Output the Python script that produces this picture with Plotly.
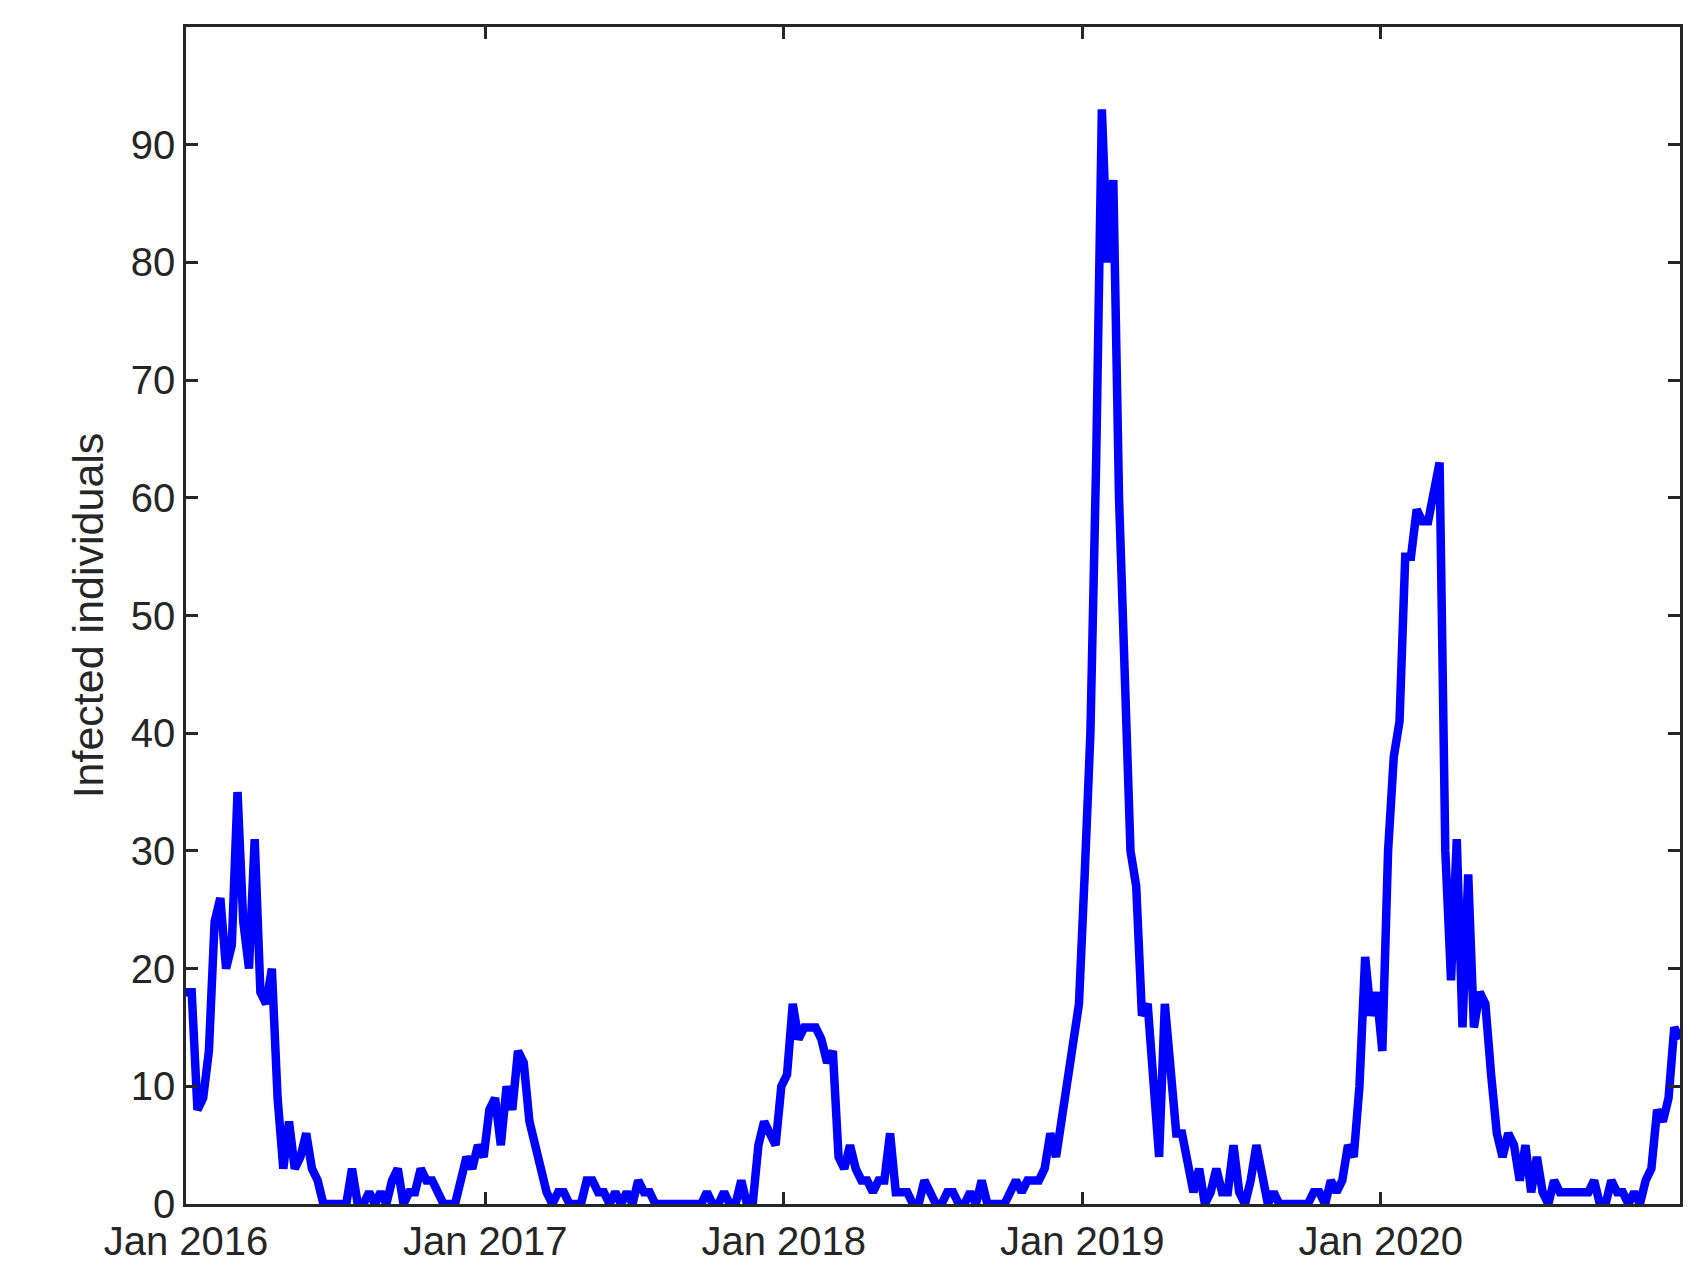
import plotly.graph_objects as go
import pandas as pd

y2016 = [18,18,8,9,13,24,26,20,22,35,24,20,31,18,17,20,9,3,7,3,4,6,3,2,0,0,0,0,0,3,0,0,1,0,1,0,2,3,0,1,1,3,2,2,1,0,0,0,2,4,3,5]
y2017 = [4,8,9,5,10,8,13,12,7,5,3,1,0,1,1,0,0,0,2,2,1,1,0,1,0,1,0,2,1,1,0,0,0,0,0,0,0,0,0,1,0,0,1,0,0,2,0,0,5,7,6,5]
y2018 = [10,11,17,14,15,15,15,14,12,13,4,3,5,3,2,2,1,2,2,6,1,1,1,0,0,2,1,0,0,1,1,0,0,1,0,2,0,0,0,0,1,2,1,2,2,2,3,6,4,7,10,14]
y2019 = [17,28,40,63,93,80,87,60,42,30,27,16,17,10,4,17,11,6,6,3,1,3,0,1,3,1,1,5,1,0,2,5,2,0,1,0,0,0,0,0,0,1,1,0,2,1,2,5,4,10,21,16]
y2020 = [18,13,30,38,41,55,55,59,58,58,61,63,30,19,31,15,28,15,18,17,11,6,4,6,5,2,5,1,4,1,0,2,1,1,1,1,1,1,2,0,0,2,1,1,0,1,0,2,3,8,7,9,15,14]
tick_vals = ["2016-01-01","2017-01-01","2018-01-01","2019-01-01","2020-01-01"]
tick_text = ["Jan 2016","Jan 2017","Jan 2018","Jan 2019","Jan 2020"]

values = y2016 + y2017 + y2018 + y2019 + y2020
dates = pd.date_range("2016-01-01", periods=len(values), freq="7D")

fig = go.Figure(go.Scatter(x=dates, y=values, mode="lines",
                           line=dict(color="#0000ff", width=8.5)))
axis_common = dict(showline=True, linecolor="#262626", linewidth=2.5, mirror="ticks",
                   ticks="inside", ticklen=12, tickwidth=2.5, tickcolor="#262626",
                   showgrid=False, zeroline=False,
                   tickfont=dict(family="Liberation Sans, Arial", size=40, color="#262626"))
fig.update_xaxes(range=[dates[0], dates[-1]], tickvals=tick_vals, ticktext=tick_text, **axis_common)
fig.update_yaxes(range=[0, 100], dtick=10,
                 title=dict(text="Infected individuals", font=dict(family="Liberation Sans, Arial", size=43, color="#262626"), standoff=14),
                 **axis_common)
fig.update_layout(width=1696, height=1283, plot_bgcolor="white", paper_bgcolor="white",
                  margin=dict(l=178, r=24, t=19, b=87), showlegend=False)
fig.write_html("out.html")
